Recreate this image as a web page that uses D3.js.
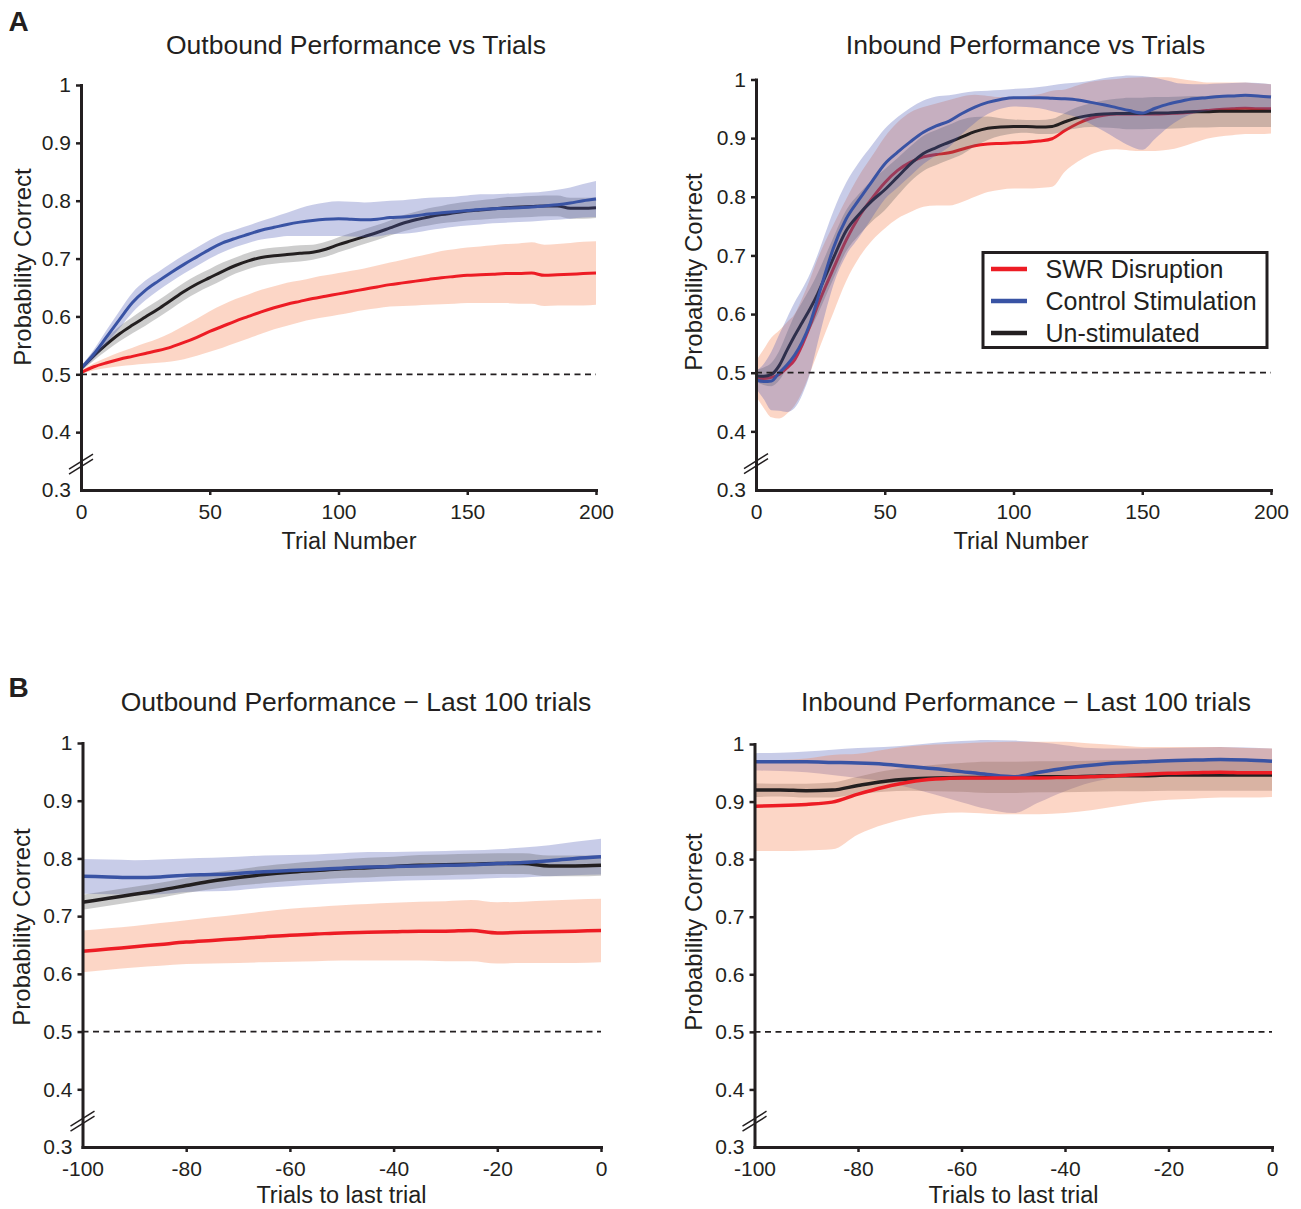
<!DOCTYPE html>
<html>
<head>
<meta charset="utf-8">
<script src="https://cdn.jsdelivr.net/npm/d3@7"></script>
<style>
  body { margin: 0; background: #ffffff; }
</style>
</head>
<body>
<svg id="fig" width="1301" height="1209"></svg>
<script>
// ---------- data ----------
// Outbound task: trial number and mean ± s.e.m. of probability correct
const outTrials = [0,5,10,15,20,25,30,35,40,45,50,55,60,65,70,75,80,85,90,95,100,
                   105,110,115,120,125,130,135,140,145,150,155,160,165,170,175,180,185,190,195,200];
const outSWR     = [.503,.513,.520,.526,.531,.536,.541,.547,.555,.564,.574,.583,.592,.600,.608,.615,.621,.626,.631,.635,.639,
                    .643,.647,.651,.655,.658,.661,.664,.667,.669,.671,.672,.673,.674,.674,.675,.671,.672,.673,.674,.675];
const outSWRErr  = [.003,.006,.009,.012,.015,.018,.021,.025,.029,.032,.035,.037,.038,.038,.038,.037,.037,.036,.036,.036,.036,
                    .036,.036,.037,.038,.040,.042,.044,.046,.047,.048,.049,.050,.051,.052,.053,.053,.053,.054,.055,.055];
const outCtrl    = [.510,.535,.565,.595,.624,.645,.661,.676,.690,.703,.716,.727,.735,.742,.749,.754,.759,.763,.766,.768,.769,
                    .768,.767,.768,.771,.772,.774,.777,.779,.781,.783,.785,.786,.787,.788,.789,.791,.793,.796,.800,.803];
const outCtrlErr = [.004,.008,.012,.015,.017,.017,.016,.016,.016,.016,.016,.016,.015,.015,.016,.018,.020,.024,.027,.029,.030,
                    .030,.030,.030,.029,.029,.029,.028,.027,.026,.026,.026,.025,.025,.025,.025,.025,.026,.027,.029,.031];
const outNone    = [.510,.532,.552,.570,.585,.599,.613,.628,.643,.656,.667,.678,.688,.696,.702,.705,.707,.709,.711,.716,.724,
                    .731,.738,.745,.753,.761,.767,.772,.776,.779,.782,.784,.786,.788,.789,.790,.791,.791,.787,.787,.788];
const outNoneErr = [.004,.008,.011,.013,.014,.015,.015,.015,.015,.015,.015,.015,.014,.014,.014,.014,.014,.014,.013,.013,.013,
                    .013,.013,.013,.013,.014,.014,.015,.015,.016,.016,.017,.017,.018,.018,.018,.018,.018,.018,.018,.018];

// Inbound task
const inTrials = [0,3,6,9,12,15,18,21,24,27,30,35,40,45,50,55,60,65,70,75,80,85,90,95,100,
                  105,110,115,120,125,130,135,140,145,150,155,160,165,170,175,180,185,190,195,200];
const inSWR     = [.490,.490,.492,.497,.508,.522,.548,.580,.615,.647,.677,.726,.766,.797,.824,.845,.859,.868,.872,.875,.881,.887,.890,.891,.892,
                   .893,.895,.899,.913,.925,.934,.939,.941,.941,.941,.941,.942,.943,.945,.947,.949,.950,.951,.950,.950];
const inSWRErr  = [.030,.050,.068,.075,.078,.078,.080,.080,.080,.078,.075,.070,.070,.072,.078,.082,.085,.085,.087,.090,.090,.087,.082,.079,.078,
                   .079,.080,.082,.070,.065,.062,.060,.060,.062,.063,.063,.062,.058,.053,.048,.046,.045,.044,.043,.042];
const inCtrl    = [.488,.485,.486,.500,.513,.530,.553,.584,.627,.671,.712,.762,.795,.826,.856,.876,.894,.910,.921,.929,.942,.953,.961,.966,.969,
                   .969,.969,.968,.967,.965,.961,.957,.952,.947,.943,.951,.958,.963,.967,.969,.971,.972,.973,.972,.970];
const inCtrlErr = [.015,.030,.050,.065,.080,.090,.090,.085,.075,.068,.063,.062,.064,.062,.060,.060,.058,.054,.050,.044,.035,.027,.020,.016,.015,
                   .016,.018,.022,.026,.030,.037,.045,.053,.060,.063,.052,.040,.030,.025,.023,.022,.022,.022,.022,.022];
const inNone    = [.495,.494,.497,.512,.538,.563,.586,.609,.635,.665,.695,.742,.770,.793,.812,.834,.856,.874,.884,.893,.902,.911,.917,.919,.920,
                   .920,.919,.920,.928,.935,.939,.941,.942,.942,.942,.943,.943,.944,.945,.945,.946,.946,.946,.946,.946];
const inNoneErr = [.010,.015,.020,.025,.030,.035,.035,.035,.035,.035,.035,.035,.035,.035,.035,.032,.030,.030,.030,.030,.030,.025,.020,.015,.012,
                   .011,.012,.013,.015,.018,.020,.023,.025,.027,.027,.027,.027,.027,.027,.027,.027,.027,.027,.027,.027];

const yTicks = [0.3, 0.4, 0.5, 0.6, 0.7, 0.8, 0.9, 1];
const trialTicks = [0, 50, 100, 150, 200];
const lastTicks = [-100, -80, -60, -40, -20, 0];
const groupNames = ["SWR Disruption", "Control Stimulation", "Un-stimulated"];

// ---------- styling ----------
const FONT = '"Liberation Sans", Arial, Helvetica, sans-serif';
const INK = "#231f20";
const style = {
  swr:  { line: "#ed1c24", band: "#f57641" },
  ctrl: { line: "#3953a4", band: "#4855b2" },
  none: { line: "#231f20", band: "#585858" }
};
const BAND_OPACITY = 0.3;

const svg = d3.select("#fig");
svg.append("rect").attr("width", 1301).attr("height", 1209).attr("fill", "#fff");

function seriesFor(trials, mean, err, keep, shift) {
  return trials.map((t, i) => ({ t, x: t + shift, m: mean[i], e: err[i] }))
               .filter(d => keep(d.t));
}

function drawPanel(p) {
  const x = d3.scaleLinear().domain(p.xDomain).range([p.left, p.right]);
  const y = d3.scaleLinear().domain([0.3, 1]).range([p.bottom, p.top]);
  const g = svg.append("g");

  const area = d3.area().curve(d3.curveMonotoneX)
    .x(d => x(d.x)).y0(d => y(d.m - d.e)).y1(d => y(d.m + d.e));
  const line = d3.line().curve(d3.curveMonotoneX)
    .x(d => x(d.x)).y(d => y(d.m));

  p.order.forEach(([key, kind]) => {
    const data = p.series[key];
    if (kind === "band") {
      g.append("path").datum(data).attr("d", area)
        .attr("fill", style[key].band).attr("fill-opacity", BAND_OPACITY).attr("stroke", "none");
    } else {
      g.append("path").datum(data).attr("d", line)
        .attr("fill", "none").attr("stroke", style[key].line)
        .attr("stroke-width", p.lineWidth).attr("stroke-linejoin", "round");
    }
  });

  // chance level
  g.append("line")
    .attr("x1", x(p.xDomain[0])).attr("x2", x(p.xDomain[1]))
    .attr("y1", y(0.5)).attr("y2", y(0.5))
    .attr("stroke", INK).attr("stroke-width", 1.8).attr("stroke-dasharray", "6,4.5");

  // axes
  const yAxis = d3.axisLeft(y).tickValues(yTicks)
    .tickFormat(d => d === 1 ? "1" : d3.format(".1f")(d))
    .tickSize(5).tickSizeOuter(0).tickPadding(5);
  const gy = g.append("g").attr("transform", `translate(${p.left},0)`).call(yAxis);

  const xAxis = d3.axisBottom(x).tickValues(p.xTicks)
    .tickFormat(d => String(d))
    .tickSize(5).tickSizeOuter(0).tickPadding(9);
  const gx = g.append("g").attr("transform", `translate(0,${p.bottom})`).call(xAxis);

  [gx, gy].forEach(a => {
    a.attr("font-family", FONT).attr("font-size", 21);
    a.select(".domain").attr("stroke", INK).attr("stroke-width", 3).attr("stroke-linecap", "square");
    a.selectAll(".tick line").attr("stroke", INK).attr("stroke-width", 2.5);
    a.selectAll(".tick text").attr("fill", INK);
  });
  gy.selectAll(".tick").filter(d => d === 0.3).select("line").remove();
  gx.selectAll(".tick").filter(d => d === p.xDomain[0]).select("line").remove();

  // axis break marks
  const by = y(0.35);
  [0, 5].forEach(off => {
    g.append("line")
      .attr("x1", p.left - 12).attr("y1", by + 8 + off)
      .attr("x2", p.left + 12).attr("y2", by - 7 + off)
      .attr("stroke", INK).attr("stroke-width", 1.5);
  });

  // texts
  g.append("text").text(p.title)
    .attr("x", p.titleX).attr("y", p.titleY).attr("text-anchor", "middle")
    .attr("font-family", FONT).attr("font-size", 26.5).attr("fill", INK);
  g.append("text").text(p.xLabel)
    .attr("x", p.xLabelX).attr("y", p.xLabelY).attr("text-anchor", "middle")
    .attr("font-family", FONT).attr("font-size", 23.5).attr("fill", INK);
  g.append("text").text("Probability Correct")
    .attr("transform", `translate(${p.yLabelX},${p.yLabelY}) rotate(-90)`)
    .attr("text-anchor", "middle")
    .attr("font-family", FONT).attr("font-size", 24).attr("fill", INK);

  return { x, y, g };
}

// ---------- panel series ----------
const all = () => true;
const last100 = t => t >= 100;

const outFull = {
  swr:  seriesFor(outTrials, outSWR, outSWRErr, all, 0),
  ctrl: seriesFor(outTrials, outCtrl, outCtrlErr, all, 0),
  none: seriesFor(outTrials, outNone, outNoneErr, all, 0)
};
const inFull = {
  swr:  seriesFor(inTrials, inSWR, inSWRErr, all, 0),
  ctrl: seriesFor(inTrials, inCtrl, inCtrlErr, all, 0),
  none: seriesFor(inTrials, inNone, inNoneErr, all, 0)
};
const outLast = {
  swr:  seriesFor(outTrials, outSWR, outSWRErr, last100, -200),
  ctrl: seriesFor(outTrials, outCtrl, outCtrlErr, last100, -200),
  none: seriesFor(outTrials, outNone, outNoneErr, last100, -200)
};
const inLast = {
  swr:  seriesFor(inTrials, inSWR, inSWRErr, last100, -200),
  ctrl: seriesFor(inTrials, inCtrl, inCtrlErr, last100, -200),
  none: seriesFor(inTrials, inNone, inNoneErr, last100, -200)
};

const orderFull = [["swr","band"],["swr","line"],["none","band"],["none","line"],["ctrl","band"],["ctrl","line"]];
const orderLast = [["ctrl","band"],["none","band"],["swr","band"],["none","line"],["ctrl","line"],["swr","line"]];

drawPanel({
  left: 81, right: 596, top: 85, bottom: 490, xDomain: [0, 200], xTicks: trialTicks,
  series: outFull, order: orderFull, lineWidth: 3,
  title: "Outbound Performance vs Trials", titleX: 356, titleY: 54,
  xLabel: "Trial Number", xLabelX: 349, xLabelY: 549, yLabelX: 31, yLabelY: 267
});

drawPanel({
  left: 756, right: 1271, top: 79.5, bottom: 490, xDomain: [0, 200], xTicks: trialTicks,
  series: inFull, order: orderFull, lineWidth: 3,
  title: "Inbound Performance vs Trials", titleX: 1025.5, titleY: 54,
  xLabel: "Trial Number", xLabelX: 1021, xLabelY: 549, yLabelX: 702, yLabelY: 272
});

drawPanel({
  left: 82.5, right: 601, top: 743, bottom: 1147, xDomain: [-100, 0], xTicks: lastTicks,
  series: outLast, order: orderLast, lineWidth: 3.5,
  title: "Outbound Performance \u2212 Last 100 trials", titleX: 356, titleY: 710.5,
  xLabel: "Trials to last trial", xLabelX: 341.5, xLabelY: 1203, yLabelX: 30, yLabelY: 927
});

drawPanel({
  left: 754.5, right: 1272, top: 744, bottom: 1147, xDomain: [-100, 0], xTicks: lastTicks,
  series: inLast, order: orderLast, lineWidth: 3.5,
  title: "Inbound Performance \u2212 Last 100 trials", titleX: 1026, titleY: 710.5,
  xLabel: "Trials to last trial", xLabelX: 1013.5, xLabelY: 1203, yLabelX: 702, yLabelY: 932
});

// ---------- legend (inbound panel) ----------
const legend = svg.append("g");
legend.append("rect")
  .attr("x", 983).attr("y", 252.5).attr("width", 284).attr("height", 95)
  .attr("fill", "#fff").attr("stroke", INK).attr("stroke-width", 3);
const legendKeys = ["swr", "ctrl", "none"];
const legendRow = d3.scaleBand().domain(legendKeys).range([253, 349]);
legendKeys.forEach((k, i) => {
  const cy = legendRow(k) + legendRow.bandwidth() / 2;
  legend.append("line")
    .attr("x1", 991).attr("x2", 1027).attr("y1", cy).attr("y2", cy)
    .attr("stroke", style[k].line).attr("stroke-width", 4.5);
  legend.append("text").text(groupNames[i])
    .attr("x", 1045.5).attr("y", cy + 8.5)
    .attr("font-family", FONT).attr("font-size", 25).attr("fill", INK);
});

// ---------- panel letters ----------
[["A", 30.5], ["B", 697]].forEach(([s, yy]) => {
  svg.append("text").text(s).attr("x", 8.5).attr("y", yy)
    .attr("font-family", FONT).attr("font-weight", "bold").attr("font-size", 28)
    .attr("fill", INK);
});
</script>
</body>
</html>
